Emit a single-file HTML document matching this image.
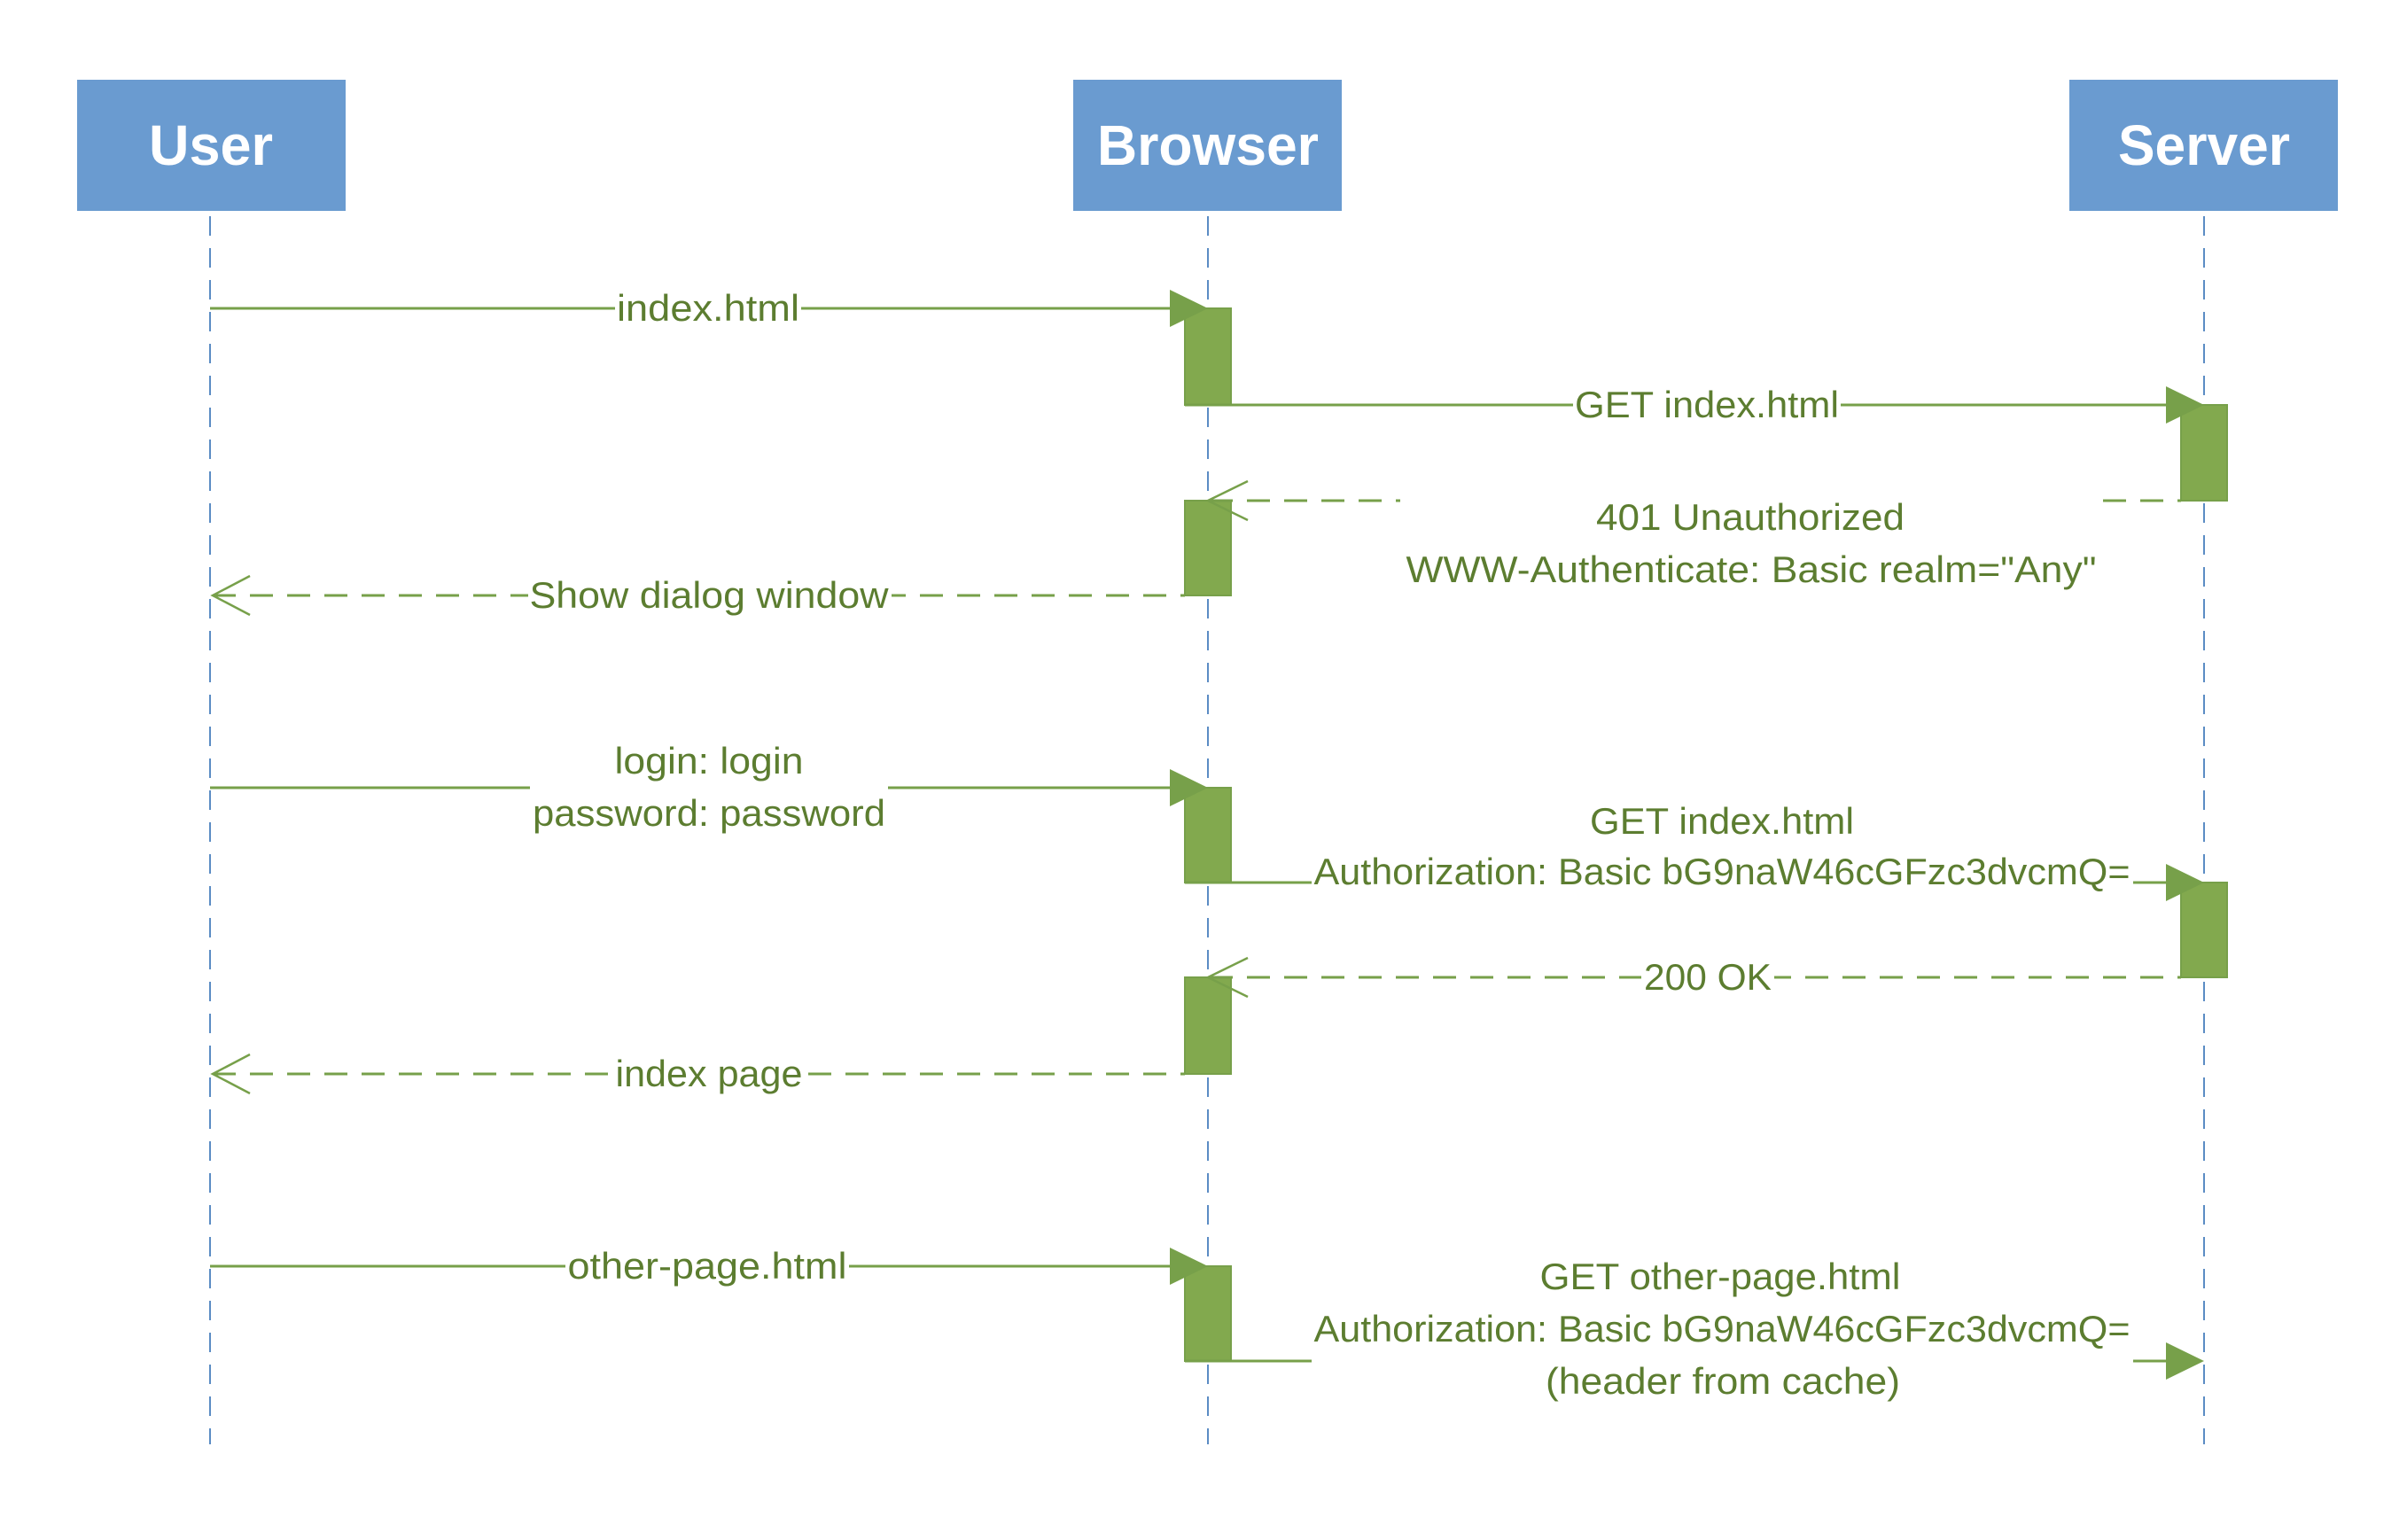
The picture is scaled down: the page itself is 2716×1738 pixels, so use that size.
<!DOCTYPE html>
<html><head><meta charset="utf-8"><style>html,body{margin:0;padding:0;background:#fff}svg{display:block}</style></head>
<body>
<svg width="2716" height="1738" viewBox="0 0 2716 1738" xmlns="http://www.w3.org/2000/svg">
<g fill="#6a9bd0">
<rect x="87" y="90" width="303" height="148"/>
<rect x="1211" y="90" width="303" height="148"/>
<rect x="2335" y="90" width="303" height="148"/>
</g>
<g font-family="'Liberation Sans Narrow','Liberation Sans',sans-serif" font-weight="bold" font-size="64" fill="#fff" text-anchor="middle">
<text x="238" y="186" textLength="140" lengthAdjust="spacingAndGlyphs">User</text>
<text x="1363" y="186" textLength="250" lengthAdjust="spacingAndGlyphs">Browser</text>
<text x="2487" y="186" textLength="194" lengthAdjust="spacingAndGlyphs">Server</text>
</g>
<g stroke="#5b8cc4" stroke-width="2" stroke-dasharray="22,14">
<line x1="237" y1="244" x2="237" y2="1630"/>
<line x1="1363" y1="244" x2="1363" y2="1630"/>
<line x1="2487" y1="244" x2="2487" y2="1630"/>
</g>
<!-- activation bars -->
<g fill="#82a94e" stroke="#77a04a" stroke-width="2">
<rect x="1337" y="348" width="52" height="109"/>
<rect x="1337" y="565" width="52" height="107"/>
<rect x="1337" y="889" width="52" height="107"/>
<rect x="1337" y="1103" width="52" height="109"/>
<rect x="1337" y="1429" width="52" height="107"/>
<rect x="2461" y="457" width="52" height="108"/>
<rect x="2461" y="996" width="52" height="107"/>
</g>
<!-- solid messages -->
<g stroke="#77a04a" stroke-width="3" fill="none">
<line x1="237" y1="348" x2="1330" y2="348"/>
<line x1="1337" y1="457" x2="2455" y2="457"/>
<line x1="237" y1="889" x2="1330" y2="889"/>
<line x1="1337" y1="996" x2="2455" y2="996"/>
<line x1="237" y1="1429" x2="1330" y2="1429"/>
<line x1="1337" y1="1536" x2="2445" y2="1536"/>
</g>
<g stroke="#77a04a" stroke-width="3" fill="none" stroke-dasharray="26,16">
<line x1="1365" y1="565" x2="2461" y2="565"/>
<line x1="240" y1="672" x2="1337" y2="672"/>
<line x1="1365" y1="1103" x2="2461" y2="1103"/>
<line x1="240" y1="1212" x2="1337" y2="1212"/>
</g>
<!-- filled arrowheads -->
<g fill="#77a04a">
<polygon points="1320,327 1320,369 1363,348"/>
<polygon points="2444,436 2444,478 2487,457"/>
<polygon points="1320,868 1320,910 1363,889"/>
<polygon points="2444,975 2444,1017 2487,996"/>
<polygon points="1320,1408 1320,1450 1363,1429"/>
<polygon points="2444,1515 2444,1557 2487,1536"/>
</g>
<!-- open arrowheads -->
<g stroke="#77a04a" stroke-width="2.5" fill="none">
<polyline points="1408,543 1363,565 1408,587"/>
<polyline points="282,650 240,672 282,694"/>
<polyline points="1408,1081 1363,1103 1408,1125"/>
<polyline points="282,1190 240,1212 282,1234"/>
</g>
<!-- label backgrounds -->
<g fill="#fff">
<rect x="694" y="324" width="210" height="48"/>
<rect x="1775" y="433" width="302" height="48"/>
<rect x="1580" y="553" width="792" height="130"/>
<rect x="596" y="648" width="410" height="48"/>
<rect x="598" y="830" width="404" height="112"/>
<rect x="1480" y="900" width="927" height="112"/>
<rect x="1852" y="1079" width="150" height="48"/>
<rect x="692" y="1188" width="216" height="48"/>
<rect x="638" y="1405" width="320" height="48"/>
<rect x="1480" y="1410" width="927" height="175"/>
</g>
<g font-family="'Liberation Sans Narrow','Liberation Sans',sans-serif" font-size="42" fill="#5c7d30" text-anchor="middle" lengthAdjust="spacingAndGlyphs">
<text x="799" y="362" textLength="206" lengthAdjust="spacingAndGlyphs">index.html</text>
<text x="1926" y="471" textLength="298" lengthAdjust="spacingAndGlyphs">GET index.html</text>
<text x="1975" y="598" textLength="348" lengthAdjust="spacingAndGlyphs">401 Unauthorized</text>
<text x="1976" y="657" textLength="779" lengthAdjust="spacingAndGlyphs">WWW-Authenticate: Basic realm="Any"</text>
<text x="800" y="686" textLength="405" lengthAdjust="spacingAndGlyphs">Show dialog window</text>
<text x="800" y="873" textLength="213" lengthAdjust="spacingAndGlyphs">login: login</text>
<text x="800" y="932" textLength="398" lengthAdjust="spacingAndGlyphs">password: password</text>
<text x="1943" y="941" textLength="298" lengthAdjust="spacingAndGlyphs">GET index.html</text>
<text x="1943" y="998" textLength="921" lengthAdjust="spacingAndGlyphs">Authorization: Basic bG9naW46cGFzc3dvcmQ=</text>
<text x="1927" y="1117" textLength="144" lengthAdjust="spacingAndGlyphs">200 OK</text>
<text x="800" y="1226" textLength="211" lengthAdjust="spacingAndGlyphs">index page</text>
<text x="798" y="1443" textLength="315" lengthAdjust="spacingAndGlyphs">other-page.html</text>
<text x="1941" y="1455" textLength="407" lengthAdjust="spacingAndGlyphs">GET other-page.html</text>
<text x="1943" y="1514" textLength="921" lengthAdjust="spacingAndGlyphs">Authorization: Basic bG9naW46cGFzc3dvcmQ=</text>
<text x="1944" y="1573" textLength="400" lengthAdjust="spacingAndGlyphs">(header from cache)</text>
</g>
</svg>
</body></html>
